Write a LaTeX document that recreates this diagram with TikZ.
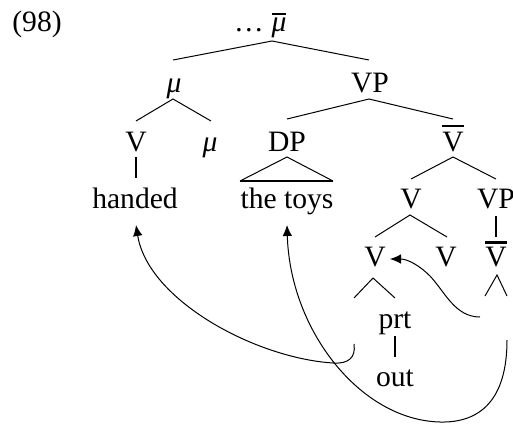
\documentclass[tikz,border=0pt]{standalone}
\usepackage{fontspec}
\setmainfont{Liberation Serif}
\usetikzlibrary{calc,arrows.meta}
\newcommand\obar[2]{\setbox0\hbox{#2}\rlap{\raisebox{#1}{\rule{\wd0}{1.1pt}}}\box0}
\begin{document}
\begin{tikzpicture}[x=0.5pt,y=-0.5pt,
  font=\fontsize{14.8}{17}\selectfont,
  lbl/.style={anchor=base,inner sep=0pt},
  br/.style={line width=0.5pt},
  stem/.style={line width=1.3pt},
  mv/.style={line width=0.5pt,-{Latex[length=5.5pt,width=4.8pt]}}]
\useasboundingbox (0,0) rectangle (513,423);
% labels
\node[lbl] (ex) at (37,32) {(98)};
\node[lbl] (dots) at (249,32) {\ldots};
\node[lbl] (mub) at (279,32) {\obar{8.5pt}{\itshape μ}};
\node[lbl] (mu1) at (174,92) {\itshape μ};
\node[lbl] (VP1) at (370,92) {VP};
\node[lbl] (V1) at (136,151) {V};
\node[lbl] (mu2) at (210,151) {\itshape μ};
\node[lbl] (DP) at (287,151) {DP};
\node[lbl] (Vb1) at (453,151) {\obar{12pt}{V}};
\node[lbl] (handed) at (135,208) {handed};
\node[lbl] (toys) at (287,208) {the toys};
\node[lbl] (V2) at (411,208) {V};
\node[lbl] (VP2) at (496,208) {VP};
\node[lbl] (V3) at (375,266) {V};
\node[lbl] (V4) at (446,266) {V};
\node[lbl] (Vb2) at (496,266) {\obar{11.2pt}{V}};
\node[lbl] (prt) at (395,328) {prt};
\node[lbl] (out) at (395,386) {out};
% empty daughters / traces
\coordinate (e1) at (354,298);
\coordinate (e2) at (485,296);
\coordinate (e3) at (507,296);
\coordinate (tr1) at (354,344);
\coordinate (tr2) at (480,317);
\coordinate (tr3) at (507,340);
% branches
\draw[br] ($(mu1.base)+(-1,-32)$) -- ($(mub.base)+(-7,9)$) -- ($(VP1.base)+(-1,-32)$);
\draw[br] ($(V1.base)+(0,-30)$) -- ($(mu1.base)+(-1,7)$) -- ($(mu2.base)+(1,-30)$);
\draw[br] ($(DP.base)+(0,-32)$) -- ($(VP1.base)+(-1,7)$) -- ($(Vb1.base)+(0,-32)$);
\draw[stem] ($(V1.base)+(0,6)$) -- ($(handed.base)+(1,-30)$);
\draw[br] ($(toys.base)+(-47,-27)$) -- ($(DP.base)+(0,6)$) -- ($(toys.base)+(46,-27)$);
\draw[stem] ($(toys.base)+(-47,-27)$) -- ($(toys.base)+(46,-27)$);
\draw[br] ($(V2.base)+(0,-29)$) -- ($(Vb1.base)+(0,6)$) -- ($(VP2.base)+(0,-29)$);
\draw[br] ($(V3.base)+(0,-29)$) -- ($(V2.base)+(-1,7)$) -- ($(V4.base)+(1,-29)$);
\draw[stem] ($(VP2.base)+(0,8)$) -- ($(Vb2.base)+(0,-29)$);
\draw[br] (e1) -- ($(V3.base)+(-2,12)$) -- ($(prt.base)+(0,-30)$);
\draw[br] (e2) -- ($(Vb2.base)+(1,9)$) -- (e3);
\draw[stem] ($(prt.base)+(0,8)$) -- ($(out.base)+(0,-29)$);
% movement arrows
\draw[mv] (tr1) .. controls (356,358) and (348,364) .. (333,363)
  .. controls (255,358) and (148,300) .. ($(handed.base)+(1,17)$);
\draw[mv] (tr3) .. controls (507,400) and (480,423) .. (440,422)
  .. controls (360,420) and (290,330) .. ($(toys.base)+(0,17)$);
\draw[mv] (tr2) .. controls (455,317) and (445,292) .. (430,276)
  .. controls (420,266) and (408,259) .. ($(V3.base)+(15,-7)$);
\end{tikzpicture}
\end{document}
